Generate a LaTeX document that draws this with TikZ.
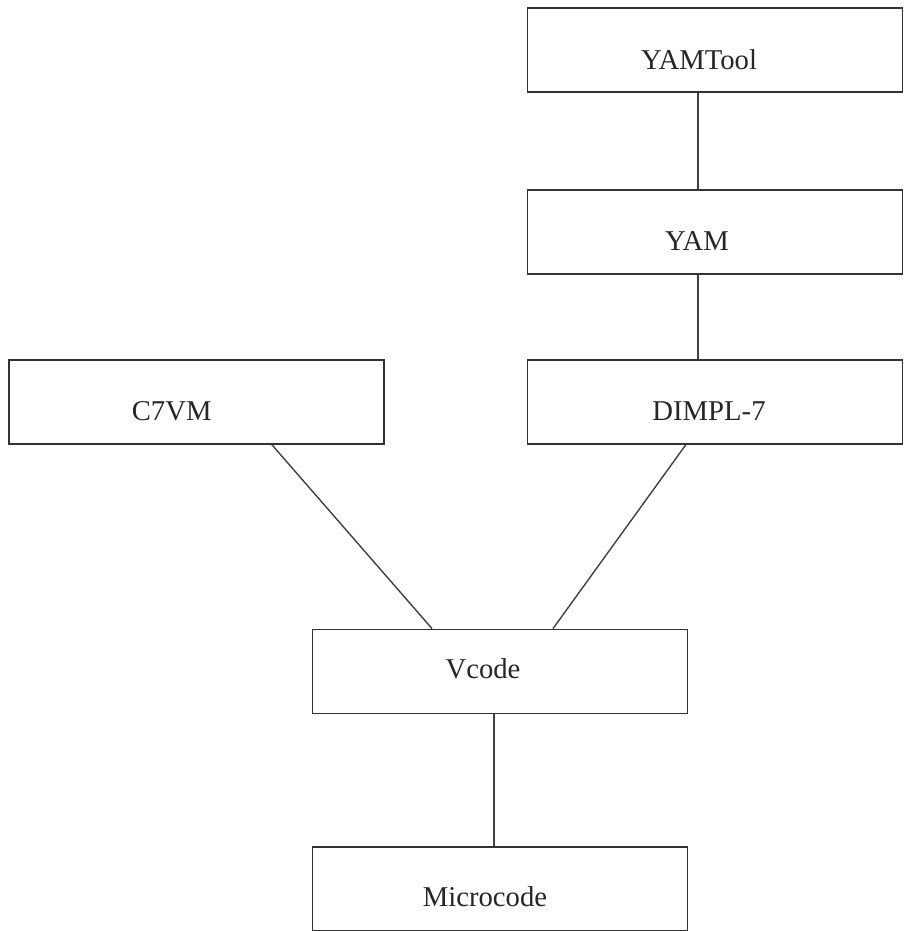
\documentclass[tikz,border=0pt]{standalone}
\usepackage{fontspec}
\setmainfont{Liberation Serif}
\usepackage{tikz}
\usetikzlibrary{positioning}

\begin{document}
\begin{tikzpicture}[x=1pt, y=-1pt,
  box/.style={draw=black!80, line width=1.8pt, minimum width=375pt, minimum height=84pt, inner sep=0pt},
  txt/.style={font=\fontsize{28.7}{30}\selectfont, text=black!85, inner sep=0pt},
  link/.style={draw=black!75, line width=1.4pt}
]
  \useasboundingbox (0,0) rectangle (909,931);

  % right-hand column
  \node[box, label={[txt, xshift=-16pt, yshift=-9.5pt]center:YAMTool}] (yamtool) at (715,50) {};
  \node[box, below=96pt of yamtool, label={[txt, xshift=-18pt, yshift=-9pt]center:YAM}] (yam) {};
  \node[box, below=84pt of yam, label={[txt, xshift=-6pt, yshift=-9.5pt]center:DIMPL-7}] (dimpl) {};
  \node[box, left=142pt of dimpl, label={[txt, xshift=-24.5pt, yshift=-9.5pt]center:C7VM}] (c7vm) {};

  % lower part
  \node[box, label={[txt, xshift=-17pt, yshift=2.5pt]center:Vcode}] (vcode) at (500,671.5) {};
  \node[box, below=132pt of vcode, label={[txt, xshift=-15pt, yshift=-7.5pt]center:Microcode}] (microcode) {};

  \draw[link] ([xshift=-17pt]yamtool.south) -- ([xshift=-17pt]yam.north);
  \draw[link] ([xshift=-17pt]yam.south) -- ([xshift=-17pt]dimpl.north);
  \draw[link] ([xshift=75.5pt]c7vm.south) -- ([xshift=-68pt]vcode.north);
  \draw[link] ([xshift=-29pt]dimpl.south) -- ([xshift=53pt]vcode.north);
  \draw[link] ([xshift=-6pt]vcode.south) -- ([xshift=-6pt]microcode.north);
\end{tikzpicture}
\end{document}
